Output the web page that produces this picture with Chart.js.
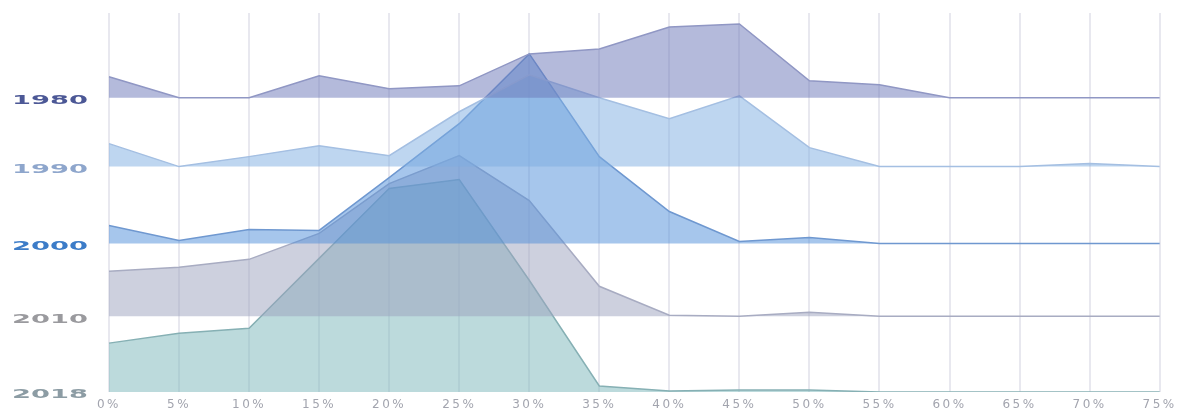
<!DOCTYPE html>
<html>
<head>
<meta charset="utf-8">
<script src="https://cdn.jsdelivr.net/npm/chart.js@4/dist/chart.umd.min.js"></script>
<style>
  html, body { margin: 0; padding: 0; background: #fff; }
  #wrap { width: 1179px; height: 412px; }
</style>
</head>
<body>
<div id="wrap"><canvas id="ridges"></canvas></div>
<script>
// share buckets along the bottom
const shares = ['0%','5%','10%','15%','20%','25%','30%','35%','40%','45%','50%','55%','60%','65%','70%','75%']

// row labels, top to bottom
const years = ['1980', '1990', '2000', '2010', '2018']

// height of each ridge above its own baseline
const s1980 = [21, 0, 0, 22, 9, 12, 44, 49, 71, 74, 17, 13, 0, 0, 0, 0]
const s1990 = [23, 0, 10, 21, 11, 55, 92, 69, 48, 71, 19, 0, 0, 0, 3, 0]
const s2000 = [18, 3, 14, 13, 66, 120, 190, 87, 32, 2, 6, 0, 0, 0, 0, 0]
const s2010 = [45, 49, 57, 83, 133, 161, 116, 30, 1, 0, 4, 0, 0, 0, 0, 0]
const s2018 = [49, 59, 64, 134, 204, 213, 112, 6, 1, 2, 2, 0, 0, 0, 0, 0]

// where each row sits on the value axis
const rowBase = [295, 226, 149, 76, 0]

const series = [s1980, s1990, s2000, s2010, s2018]
const fills = ['rgba(105,117,183,0.5)', 'rgba(125,173,225,0.5)', 'rgba(77,141,217,0.5)', 'rgba(155,161,189,0.5)', 'rgba(121,181,185,0.5)']
const lines = ['#9097c4', '#a4bfe2', '#6f98d0', '#a8acc2', '#86b0b4']
const labelColors = ['#4c5896', '#8ea6cc', '#3c7cc8', '#9a9a9e', '#8c9ca4']

// year labels are drawn wide and flat like in the source picture
const yearLabels = {
  id: 'yearLabels',
  beforeDraw(chart) {
    chart.ctx.letterSpacing = '2.5px'
  },
  afterDraw(chart) {
    const c = chart.ctx
    const y = chart.scales.y
    c.save()
    c.letterSpacing = '0px'
    c.font = 'bold 13px "DejaVu Sans"'
    c.textAlign = 'right'
    c.textBaseline = 'middle'
    years.forEach((yr, i) => {
      c.save()
      c.translate(88, y.getPixelForValue(rowBase[i]) + 3)
      c.scale(2.1, 1)
      c.fillStyle = labelColors[i]
      c.fillText(yr, 0, 0)
      c.restore()
    })
    c.restore()
  }
}

const ctx = document.getElementById('ridges')

new Chart(ctx, {
  type: 'line',
  data: {
    labels: shares,
    datasets: series.map((vals, i) => ({
      label: years[i],
      data: vals.map(v => v + rowBase[i]),
      fill: { value: rowBase[i] },
      backgroundColor: fills[i],
      borderColor: lines[i],
      borderWidth: 1.5,
      pointRadius: 0,
      tension: 0
    }))
  },
  options: {
    responsive: true,
    maintainAspectRatio: false,
    animation: false,
    layout: { padding: { top: 13, right: 19, left: 0, bottom: 0 } },
    plugins: {
      legend: { display: false },
      tooltip: { enabled: false }
    },
    scales: {
      x: {
        offset: false,
        grid: { color: '#e8e8ef', lineWidth: 2, drawTicks: false },
        border: { display: false },
        ticks: {
          color: '#a2a4ae',
          padding: 6,
          maxRotation: 0,
          autoSkip: false,
          font: { family: 'DejaVu Sans', size: 12 }
        },
        afterFit: (scale) => { scale.height = 20 }
      },
      y: {
        min: 0,
        max: 380,
        grid: { display: false },
        border: { display: false },
        ticks: { display: false },
        afterFit: (scale) => {
          scale.width = 109
          scale.paddingTop = 0
          scale.paddingBottom = 0
        }
      }
    }
  },
  plugins: [yearLabels]
})
</script>
</body>
</html>
